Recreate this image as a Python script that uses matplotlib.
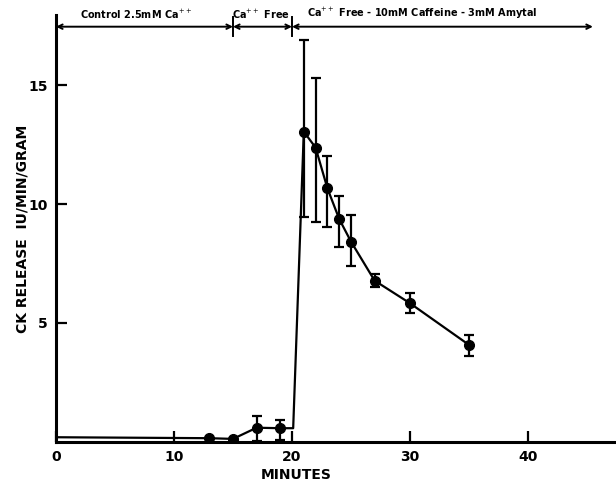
import matplotlib
matplotlib.use('Agg')
import matplotlib.pyplot as plt

# CK release during perfusion
minutes = [13, 15, 17, 19, 21, 22, 23, 24, 25, 27, 30, 35]
ck = [0.16, 0.13, 0.60, 0.58, 13.04, 12.37, 10.66, 9.37, 8.42, 6.78, 5.83, 4.08]
err_lo = [0, 0, 0.55, 0.50, 3.60, 3.11, 1.61, 1.17, 1.01, 0.28, 0.42, 0.47]
err_hi = [0, 0, 0.50, 0.35, 3.86, 2.91, 1.34, 0.98, 1.10, 0.27, 0.44, 0.42]

# extra vertices of the drawn trace (start of record, switch to caffeine)
start_pt = (0, 0.2)
switch_pt = (20.1, 0.58)

x_ticks = [0, 10, 20, 30, 40]
y_ticks = [5, 10, 15]

# perfusion periods shown along the top
period_edges = [0, 15, 20, 45.5]
period_labels = ['Control 2.5mM Ca$^{++}$', 'Ca$^{++}$ Free',
                 'Ca$^{++}$ Free - 10mM Caffeine - 3mM Amytal']
period_label_x = [6.8, 17.4, 31.0]

plt.rcParams['font.family'] = 'DejaVu Sans'

fig = plt.figure(figsize=(6.16, 4.87), dpi=100)
ax = fig.add_axes([56 / 616, 1 - 442 / 487, 1 - 56 / 616, (442 - 15) / 487])

trace_x = [start_pt[0]] + minutes[:4] + [switch_pt[0]] + minutes[4:]
trace_y = [start_pt[1]] + ck[:4] + [switch_pt[1]] + ck[4:]
ax.plot(trace_x, trace_y, color='black', lw=1.6, zorder=2)
ax.errorbar(minutes, ck, yerr=[err_lo, err_hi], fmt='o', color='black',
            ms=7, elinewidth=1.6, capsize=3.8, capthick=1.6, zorder=3)

ax.set_xlim(0, (616 - 56) / 11.8)
ax.set_ylim(0, (442 - 15) / 23.8)

for s in ['top', 'right']:
    ax.spines[s].set_visible(False)
for s in ['left', 'bottom']:
    ax.spines[s].set_linewidth(2.2)

ax.set_xticks(x_ticks)
ax.set_yticks(y_ticks)
ax.tick_params(direction='in', length=8, width=1.6, labelsize=10, pad=6)
for lab in ax.get_xticklabels() + ax.get_yticklabels():
    lab.set_fontweight('bold')

ax.set_xlabel('MINUTES', fontsize=10, fontweight='bold')
ax.xaxis.set_label_coords((296 - 56) / 560, -0.06)
ax.set_ylabel('CK RELEASE  IU/MIN/GRAM', fontsize=10, fontweight='bold')
ax.yaxis.set_label_coords(-0.048, 0.5)

# period arrows at the top
y_top = 17.45
for i in range(len(period_edges) - 1):
    x0, x1 = period_edges[i], period_edges[i + 1]
    ax.annotate('', xy=(x0, y_top), xytext=(x1, y_top),
                arrowprops=dict(arrowstyle='<->', lw=1.4, color='black',
                                shrinkA=0, shrinkB=0, mutation_scale=8),
                annotation_clip=False)
    ax.text(period_label_x[i], y_top + 0.25, period_labels[i], ha='center',
            va='bottom', fontsize=7, fontweight='bold', clip_on=False)
for xe in period_edges[1:3]:
    ax.plot([xe, xe], [y_top - 0.4, y_top + 0.4], color='black', lw=1.4,
            clip_on=False)

fig.savefig('out.png', dpi=100)
